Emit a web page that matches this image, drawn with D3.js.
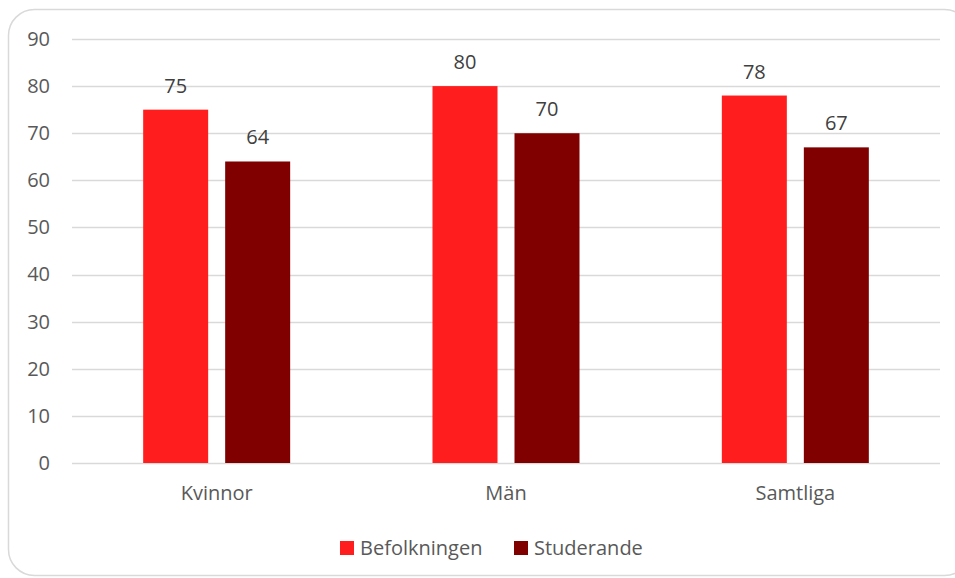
<!DOCTYPE html>
<html><head><meta charset="utf-8">
<script src="https://cdn.jsdelivr.net/npm/d3@7"></script>
<style>body{margin:0;background:#fff}svg{display:block}text{font-family:"Open Sans",sans-serif}</style>
</head><body>
<svg id="c" width="955" height="578"></svg>
<script>
const categories = ["Kvinnor", "Män", "Samtliga"];
const seriesNames = ["Befolkningen", "Studerande"];
const befolkningen = [75, 80, 78];
const studerande = [64, 70, 67];
const yTicks = [0, 10, 20, 30, 40, 50, 60, 70, 80, 90];
const colors = ["#FF1D1D", "#800000"];

const FS = 20;
const seriesValues = [befolkningen, studerande];
const svg = d3.select("#c");
svg.append("rect").attr("x", 8.5).attr("y", 9.5).attr("width", 962).attr("height", 566)
  .attr("rx", 26).attr("fill", "#fff").attr("stroke", "#d9d9d9").attr("stroke-width", 1.5);

const y = d3.scaleLinear().domain([0, 90]).range([463, 39]);
const x0 = d3.scaleBand().domain(categories).range([72, 940]).padding(0);
const groupW = 147;
const x1 = d3.scaleBand().domain(seriesNames).range([0, groupW]).paddingInner(0.2073).paddingOuter(0);

// gridlines
svg.append("g").selectAll("line").data(yTicks).join("line")
  .attr("x1", 72).attr("x2", 940)
  .attr("y1", d => Math.round(y(d)) + 0.5).attr("y2", d => Math.round(y(d)) + 0.5)
  .attr("stroke", "#d9d9d9").attr("stroke-width", 1.5);

// y axis labels
const yAxis = d3.axisLeft(y).tickValues(yTicks).tickSize(0).tickPadding(0);
const ya = svg.append("g").attr("transform", "translate(50,0)").call(yAxis);
ya.select(".domain").remove();
ya.selectAll("text").attr("font-size", FS).attr("fill", "#595959").attr("font-family", "Open Sans, sans-serif");

// x axis labels
const xAxis = d3.axisBottom(x0).tickSize(0).tickPadding(0);
const xa = svg.append("g").attr("transform", "translate(0,486)").call(xAxis);
xa.select(".domain").remove();
xa.selectAll("text").attr("font-size", FS).attr("fill", "#595959").attr("font-family", "Open Sans, sans-serif");

// bars
const groups = svg.append("g").selectAll("g").data(categories).join("g")
  .attr("transform", c => `translate(${x0(c) + x0.bandwidth() / 2 - groupW / 2},0)`);
groups.each(function(c, ci) {
  const g = d3.select(this);
  seriesNames.forEach((s, si) => {
    const v = seriesValues[si][ci];
    g.append("rect").attr("x", x1(s)).attr("width", x1.bandwidth())
      .attr("y", y(v)).attr("height", y(0) - y(v)).attr("fill", colors[si]);
    g.append("text").attr("x", x1(s) + x1.bandwidth() / 2).attr("y", y(v) - 17)
      .attr("text-anchor", "middle").attr("font-size", FS).attr("fill", "#404040").text(v);
  });
});

// legend
const legend = svg.append("g");
const legX = [340, 514];
seriesNames.forEach((s, i) => {
  legend.append("rect").attr("x", legX[i]).attr("y", 541).attr("width", 14).attr("height", 14).attr("fill", colors[i]);
  legend.append("text").attr("x", legX[i] + 20).attr("y", 555).attr("font-size", FS).attr("fill", "#595959").text(s);
});
</script>
</body></html>
